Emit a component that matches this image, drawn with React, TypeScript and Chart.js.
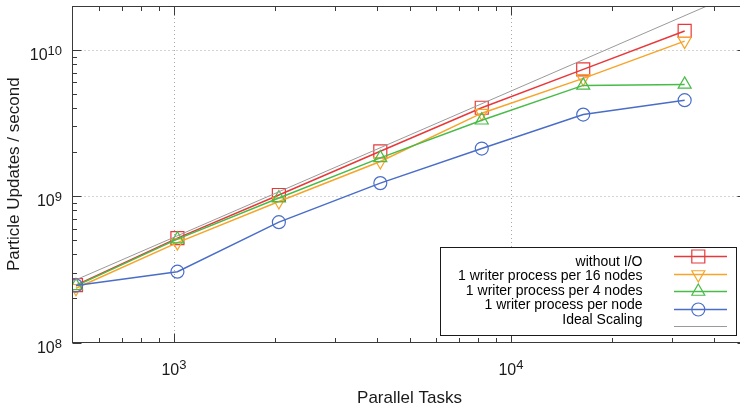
import React, { useEffect, useRef } from "react";
import { Chart, registerables } from "chart.js";

Chart.register(...registerables);

// ---- data ----
const tasks = [512, 1024, 2048, 4096, 8192, 16384, 32768];
const withoutIO = [2.47e8, 5.17e8, 1.02e9, 2.03e9, 4.03e9, 7.37e9, 1.35e10];
const perSixteenNodes = [2.35e8, 4.82e8, 9.2e8, 1.73e9, 3.7e9, 6.4e9, 1.15e10];
const perFourNodes = [2.44e8, 5.09e8, 9.72e8, 1.83e9, 3.31e9, 5.73e9, 5.82e9];
const perNode = [2.45e8, 3.05e8, 6.65e8, 1.23e9, 2.12e9, 3.62e9, 4.54e9];
const idealTasks = [500, 50000];
const idealValues = [2.62e8, 2.62e10];

const seriesLabels = [
  "without I/O",
  "1 writer process per 16 nodes",
  "1 writer process per 4 nodes",
  "1 writer process per node",
  "Ideal Scaling",
];

const xMin = 500;
const xMax = 50000;
const yMin = 1e8;
const yMax = 2e10;

const xMajorTicks = [1000, 10000];
const xMajorExp = ["3", "4"];
const xMinorTicks = [600, 700, 800, 900, 2000, 3000, 4000, 5000, 6000, 7000, 8000, 9000, 20000, 30000, 40000];
const yMajorTicks = [1e8, 1e9, 1e10];
const yMajorExp = ["8", "9", "10"];
const yMinorTicks = [2e8, 3e8, 4e8, 5e8, 6e8, 7e8, 8e8, 9e8, 2e9, 3e9, 4e9, 5e9, 6e9, 7e9, 8e9, 9e9];

const xTitle = "Parallel Tasks";
const yTitle = "Particle Updates / second";

const RED = "#e8383a";
const ORANGE = "#f7a428";
const GREEN = "#48bb48";
const BLUE = "#4a6ec8";
const GRAY = "#9a9a9a";

const FONT = '"Liberation Sans", Arial, Helvetica, sans-serif';

const legendItems = [
  { color: RED, marker: "square" },
  { color: ORANGE, marker: "triDown" },
  { color: GREEN, marker: "triUp" },
  { color: BLUE, marker: "circle" },
  { color: GRAY, marker: "none" },
];

function drawMarker(ctx: CanvasRenderingContext2D, kind: string, x: number, y: number, color: string) {
  ctx.save();
  ctx.strokeStyle = color;
  ctx.lineWidth = 1.2;
  ctx.beginPath();
  if (kind === "square") {
    ctx.rect(x - 6.5, y - 6.5, 13, 13);
  } else if (kind === "circle") {
    ctx.arc(x, y, 6.5, 0, Math.PI * 2);
  } else if (kind === "triUp" || kind === "triDown") {
    const r = 7.5;
    const base = kind === "triUp" ? 0 : Math.PI;
    for (let i = 0; i < 3; i++) {
      const a = base + (i * 2 * Math.PI) / 3;
      const px = x + Math.sin(a) * r;
      const py = y - Math.cos(a) * r;
      if (i === 0) ctx.moveTo(px, py);
      else ctx.lineTo(px, py);
    }
    ctx.closePath();
  } else {
    ctx.restore();
    return;
  }
  ctx.stroke();
  ctx.restore();
}

function drawPow(
  ctx: CanvasRenderingContext2D,
  exp: string,
  x: number,
  baseline: number,
  align: "center" | "right",
  raise: number
) {
  ctx.font = `16px ${FONT}`;
  const wb = ctx.measureText("10").width;
  ctx.font = `13px ${FONT}`;
  const we = ctx.measureText(exp).width;
  const total = wb + we;
  const left = align === "center" ? x - total / 2 : x - total;
  ctx.textAlign = "left";
  ctx.textBaseline = "alphabetic";
  ctx.font = `16px ${FONT}`;
  ctx.fillText("10", left, baseline);
  ctx.font = `13px ${FONT}`;
  ctx.fillText(exp, left + wb, baseline - raise);
}

const gnuplotLook = {
  id: "gnuplotLook",
  beforeDatasetsDraw(chart: any) {
    const { ctx, chartArea: a, scales } = chart;
    const xs = scales.x;
    const ys = scales.y;
    ctx.save();
    ctx.strokeStyle = "#a8a8a8";
    ctx.lineWidth = 1;
    ctx.setLineDash([1, 3]);
    xMajorTicks.forEach((v) => {
      const px = Math.round(xs.getPixelForValue(v)) + 0.5;
      ctx.beginPath();
      ctx.moveTo(px, a.top);
      ctx.lineTo(px, a.bottom);
      ctx.stroke();
    });
    yMajorTicks.forEach((v) => {
      if (v === yMin) return;
      const py = Math.round(ys.getPixelForValue(v)) + 0.5;
      ctx.beginPath();
      ctx.moveTo(a.left, py);
      ctx.lineTo(a.right, py);
      ctx.stroke();
    });
    ctx.restore();
  },
  afterDraw(chart: any) {
    const { ctx, chartArea: a, scales } = chart;
    const xs = scales.x;
    const ys = scales.y;
    ctx.save();
    // border
    ctx.strokeStyle = "#3a3a3a";
    ctx.lineWidth = 1;
    ctx.setLineDash([]);
    const L = Math.round(a.left) - 0.5;
    const R = Math.round(a.right) - 0.5;
    const T = Math.round(a.top) + 0.5;
    const B = Math.round(a.bottom) - 0.5;
    ctx.strokeRect(L, T, R - L, B - T);

    // ticks (inward, mirrored)
    const tick = (x1: number, y1: number, x2: number, y2: number) => {
      ctx.beginPath();
      ctx.moveTo(x1, y1);
      ctx.lineTo(x2, y2);
      ctx.stroke();
    };
    xMajorTicks.forEach((v) => {
      const px = Math.round(xs.getPixelForValue(v)) + 0.5;
      tick(px, B, px, B - 9);
      tick(px, T, px, T + 9);
    });
    xMinorTicks.forEach((v) => {
      const px = Math.round(xs.getPixelForValue(v)) + 0.5;
      tick(px, B, px, B - 4.5);
      tick(px, T, px, T + 4.5);
    });
    yMajorTicks.forEach((v) => {
      const py = Math.round(ys.getPixelForValue(v)) + 0.5;
      tick(L, py, L + 9, py);
      tick(R, py, R - 9, py);
    });
    yMinorTicks.forEach((v) => {
      const py = Math.round(ys.getPixelForValue(v)) + 0.5;
      tick(L, py, L + 4.5, py);
      tick(R, py, R - 4.5, py);
    });

    // tick labels
    ctx.fillStyle = "#1a1a1a";
    xMajorTicks.forEach((v, i) => {
      const px = xs.getPixelForValue(v);
      drawPow(ctx, xMajorExp[i], px, 374.5, "center", 6);
    });
    yMajorTicks.forEach((v, i) => {
      const py = ys.getPixelForValue(v);
      drawPow(ctx, yMajorExp[i], 62, py + 10, "right", 5);
    });

    // axis titles
    ctx.font = `17px ${FONT}`;
    ctx.textAlign = "center";
    ctx.textBaseline = "alphabetic";
    ctx.fillText(xTitle, (a.left + a.right) / 2, 402.5);
    ctx.save();
    ctx.translate(19, (a.top + a.bottom) / 2);
    ctx.rotate(-Math.PI / 2);
    ctx.fillText(yTitle, 0, 0);
    ctx.restore();

    // legend
    ctx.fillStyle = "#ffffff";
    ctx.fillRect(441, 248, 295, 87);
    ctx.strokeStyle = "#1a1a1a";
    ctx.lineWidth = 1;
    ctx.strokeRect(440.5, 247.5, 296, 88);
    ctx.font = `14px ${FONT}`;
    ctx.textAlign = "right";
    ctx.textBaseline = "middle";
    ctx.fillStyle = "#000000";
    seriesLabels.forEach((lab, i) => {
      const ty = 261.7 + i * 14.6;
      ctx.fillText(lab, 642.5, ty);
      const ly = Math.round(256 + i * 17.5) + 0.5;
      const it = legendItems[i];
      ctx.strokeStyle = it.color;
      ctx.lineWidth = i === 4 ? 1 : 1.5;
      ctx.beginPath();
      ctx.moveTo(674, ly);
      ctx.lineTo(727, ly);
      ctx.stroke();
      drawMarker(ctx, it.marker, 698.3, ly, it.color);
    });
    ctx.restore();
  },
};

function pts(xsArr: number[], ysArr: number[]) {
  return xsArr.map((x, i) => ({ x, y: ysArr[i] }));
}

export default function App() {
  const ref = useRef<HTMLCanvasElement | null>(null);

  useEffect(() => {
    if (!ref.current) return;
    const common = {
      fill: false,
      tension: 0,
      borderWidth: 1.5,
      pointBorderWidth: 1.2,
      pointBackgroundColor: "rgba(0,0,0,0)",
    };
    const chart = new Chart(ref.current, {
      type: "line",
      data: {
        datasets: [
          {
            ...common,
            label: seriesLabels[4],
            data: pts(idealTasks, idealValues),
            borderColor: GRAY,
            borderWidth: 1,
            pointRadius: 0,
          },
          {
            ...common,
            label: seriesLabels[3],
            data: pts(tasks, perNode),
            borderColor: BLUE,
            pointBorderColor: BLUE,
            pointStyle: "circle",
            pointRadius: 6.5,
          },
          {
            ...common,
            label: seriesLabels[2],
            data: pts(tasks, perFourNodes),
            borderColor: GREEN,
            pointBorderColor: GREEN,
            pointStyle: "triangle",
            pointRadius: 7.5,
          },
          {
            ...common,
            label: seriesLabels[1],
            data: pts(tasks, perSixteenNodes),
            borderColor: ORANGE,
            pointBorderColor: ORANGE,
            pointStyle: "triangle",
            pointRotation: 180,
            pointRadius: 7.5,
          },
          {
            ...common,
            label: seriesLabels[0],
            data: pts(tasks, withoutIO),
            borderColor: RED,
            pointBorderColor: RED,
            pointStyle: "rect",
            pointRadius: 9.2,
          },
        ] as any,
      },
      options: {
        animation: false,
        responsive: false,
        devicePixelRatio: 1,
        layout: { autoPadding: false, padding: { left: 72.5, right: 3.5, top: 6, bottom: 62.5 } },
        scales: {
          x: { type: "logarithmic", min: xMin, max: xMax, display: false },
          y: { type: "logarithmic", min: yMin, max: yMax, display: false },
        },
        plugins: {
          legend: { display: false },
          tooltip: { enabled: false },
        },
        events: [],
      } as any,
      plugins: [gnuplotLook],
    });
    return () => chart.destroy();
  }, []);

  return (
    <div style={{ position: "fixed", left: 0, top: 0, width: 750, height: 405, background: "#fff" }}>
      <canvas ref={ref} width={750} height={405} style={{ display: "block" }} />
    </div>
  );
}
